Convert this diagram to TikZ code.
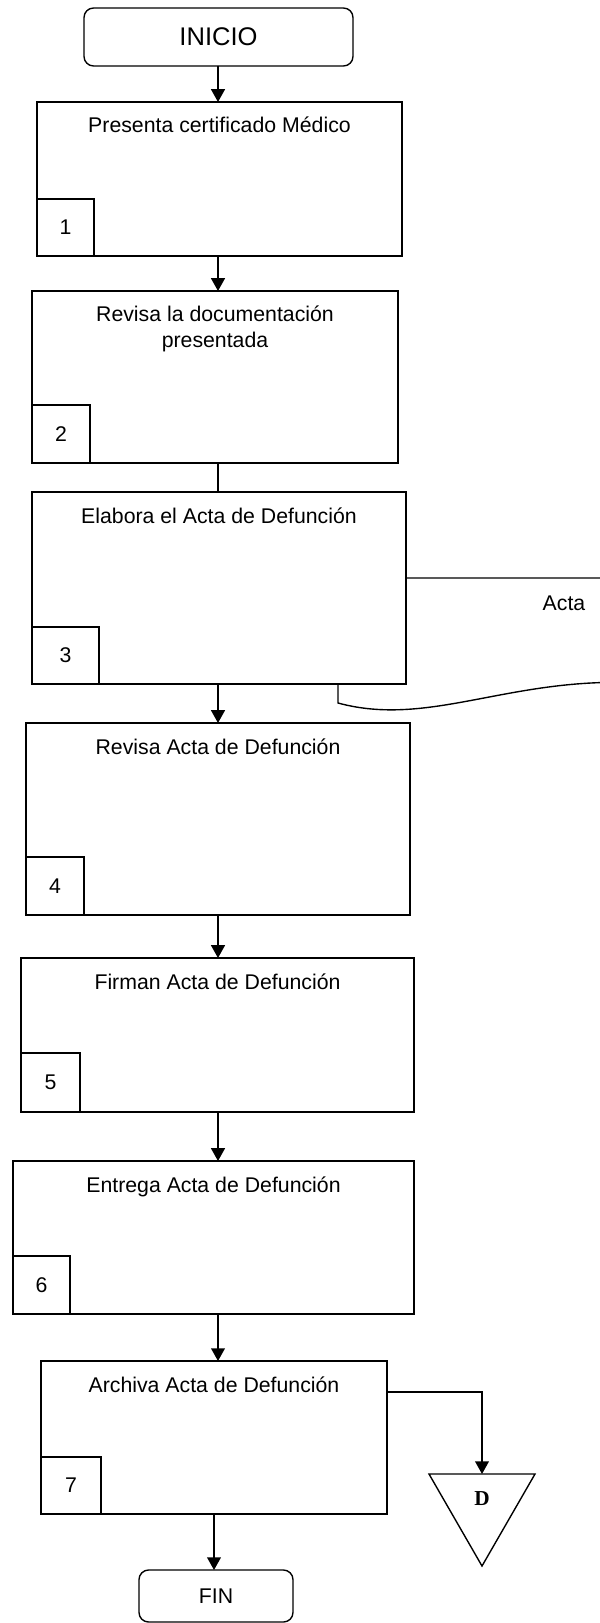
\documentclass[tikz,border=0pt]{standalone}
\usepackage{fontspec}
\setmainfont{Liberation Sans}
\newfontfamily\letraserif{Liberation Serif}
\usetikzlibrary{arrows.meta, calc}
\def\px{0.47pt}
\tikzset{
  caja/.style={draw, line width=0.65pt, fill=white, inner sep=0pt, outer sep=0pt, anchor=north west},
  numero/.style={draw, line width=0.65pt, fill=white, inner sep=0pt, outer sep=0pt, anchor=south west},
  terminal/.style={draw, line width=0.65pt, rounded corners=4.5pt, inner sep=0pt, outer sep=0pt},
  flecha/.style={-{Triangle[width=6.5pt,length=6pt]}, line width=0.75pt},
  linea/.style={line width=0.75pt},
}

\begin{document}
\begin{tikzpicture}[x=0.47pt, y=-0.47pt, font=\fontsize{10}{12}\selectfont]
    \useasboundingbox (0,0) rectangle (599,1623);

    % Documento (detras del paso 3)
    \draw[line width=0.65pt] (640,578) -- (338,578) -- (338,703)
      .. controls (430,728) and (510,676) .. (640,683);
    \node (acta) at (564,603) {Acta};

    % Inicio
    \node[terminal, minimum width=269*\px, minimum height=58*\px, font=\fontsize{12}{14}\selectfont] (inicio) at (218.5,37) {INICIO};

    % Pasos
    \foreach \n/\xa/\ya/\xb/\yb/\nw/\nh/\dy/\txt in {
      1/37/102/402/256/57/57/31/{Presenta certificado Médico},
      2/32/291/398/463/58/58/56/{Revisa la documentación\\presentada},
      3/32/492/406/684/67/57/31/{Elabora el Acta de Defunción},
      4/26/723/410/915/58/58/31/{Revisa Acta de Defunción},
      5/21/958/414/1112/59/59/31/{Firman Acta de Defunción},
      6/13/1161/414/1314/57/58/31/{Entrega Acta de Defunción},
      7/41/1361/387/1514/60/57/31/{Archiva Acta de Defunción}}
    {
      \node[caja, minimum width={(\xb-\xa)*\px}, minimum height={(\yb-\ya)*\px}] (paso\n) at (\xa,\ya) {};
      \node[align=center, anchor=base, inner sep=0pt] (texto\n) at ($(paso\n.north)+(0,\dy)$) {\txt};
      \node[numero, minimum width=\nw*\px, minimum height=\nh*\px] (num\n) at (paso\n.south west) {\n};
    }

    % Fin
    \node[terminal, minimum width=154*\px, minimum height=52*\px] (fin) at (216,1596) {FIN};

    % Conectores
    \coordinate (eje) at (218,0);
    \draw[flecha] (inicio.south -| eje) -- (paso1.north -| eje);
    \draw[linea] (paso2.south -| eje) -- (paso3.north -| eje);
    \foreach \a/\b in {1/2, 3/4, 4/5, 5/6, 6/7}
      \draw[flecha] (paso\a.south -| eje) -- (paso\b.north -| eje);
    \draw[flecha] (paso7.south) -- (paso7.south |- fin.north);

    % Archivo definitivo
    \coordinate (salida) at (387,1392);
    \coordinate (tritop) at (482,1474);
    \draw[line width=0.65pt] (429,1474) -- (535,1474) -- (482,1566) -- cycle;
    \node (almacen) at (482,1499) {\letraserif\bfseries D};
    \draw[flecha] (salida) -| (tritop);
\end{tikzpicture}
\end{document}
